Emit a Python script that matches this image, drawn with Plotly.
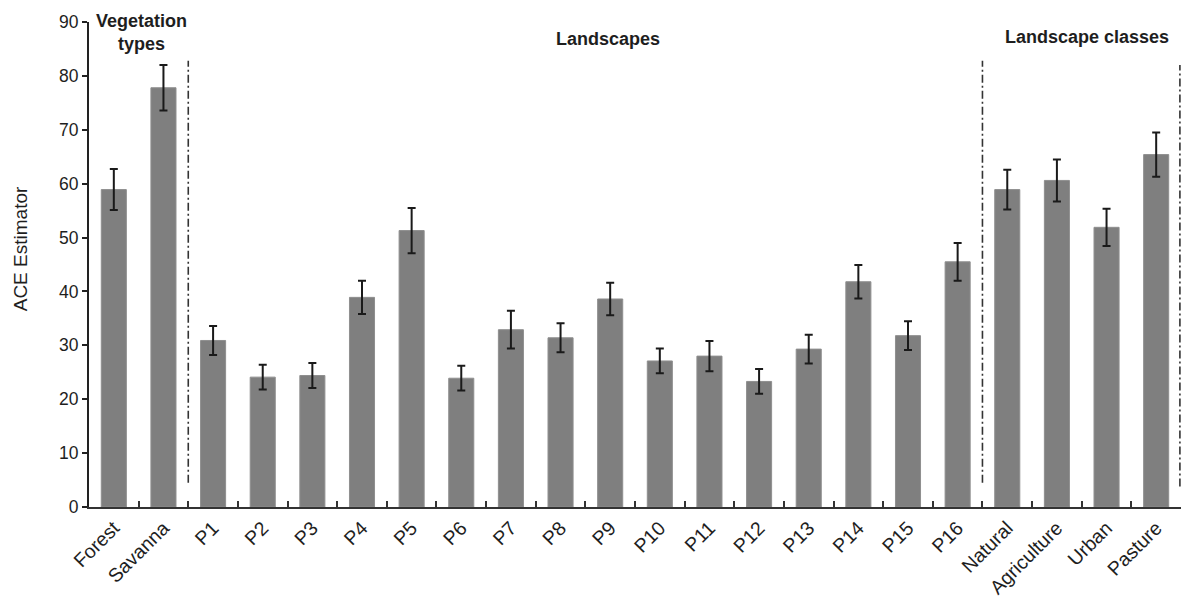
import plotly.graph_objects as go

# ACE richness estimates (mean and error) per vegetation type, landscape and landscape class
categories = ["Forest", "Savanna",
              "P1", "P2", "P3", "P4", "P5", "P6", "P7", "P8",
              "P9", "P10", "P11", "P12", "P13", "P14", "P15", "P16",
              "Natural", "Agriculture", "Urban", "Pasture"]
ace_values = [58.9, 77.8,
              30.9, 24.1, 24.4, 38.9, 51.3, 23.9, 32.9, 31.4,
              38.6, 27.1, 28.0, 23.3, 29.3, 41.8, 31.8, 45.5,
              58.9, 60.6, 51.9, 65.4]
ace_errors = [3.8, 4.2,
              2.7, 2.3, 2.3, 3.1, 4.2, 2.3, 3.5, 2.7,
              3.0, 2.3, 2.8, 2.3, 2.65, 3.1, 2.65, 3.5,
              3.7, 3.9, 3.45, 4.1]

# group headings and how many categories each group spans
group_labels = ["Vegetation<br>types", "Landscapes", "Landscape classes"]
group_sizes = [2, 16, 4]

y_ticks = [0, 10, 20, 30, 40, 50, 60, 70, 80, 90]

FONT = "Liberation Sans, Arial, sans-serif"
TEXT = "#1e1e1e"
SEP_LINE = dict(color="#333333", width=1.6, dash="8px,3px,2px,3px")

fig = go.Figure()
fig.add_trace(go.Bar(
    x=categories,
    y=ace_values,
    marker=dict(color="#7f7f7f", line=dict(color="#8f8f8f", width=1)),
    error_y=dict(type="data", array=ace_errors, visible=True,
                 color="#1a1a1a", thickness=2, width=4),
    showlegend=False,
))

# dash-dot separators after each group
shapes = []
bounds = []
pos = -0.5
for n in group_sizes:
    pos += n
    bounds.append(pos)
sep_spans = [(4.5, 82.8), (4.5, 82.8), (3.8, 82.0)]
for b, (lo, hi) in zip(bounds, sep_spans):
    if b > len(categories) - 1:
        shapes.append(dict(type="line", xref="paper", yref="y", x0=0.999, x1=0.999,
                           y0=lo, y1=hi, line=SEP_LINE))
    else:
        shapes.append(dict(type="line", xref="x", yref="y", x0=b, x1=b, y0=lo, y1=hi,
                           line=SEP_LINE))

annotations = [
    dict(text=group_labels[0], x=0.55, y=88.0, xref="x", yref="y",
         showarrow=False, font=dict(family=FONT, size=18, color=TEXT, weight="bold"),
         xanchor="center", yanchor="middle"),
    dict(text=group_labels[1], x=9.95, y=86.8, xref="x", yref="y",
         showarrow=False, font=dict(family=FONT, size=18, color=TEXT, weight="bold"),
         xanchor="center", yanchor="middle"),
    dict(text=group_labels[2], x=19.6, y=87.3, xref="x", yref="y",
         showarrow=False, font=dict(family=FONT, size=18, color=TEXT, weight="bold"),
         xanchor="center", yanchor="middle"),
    dict(text="ACE Estimator", textangle=-90, x=-0.062, y=0.532,
         xref="paper", yref="paper", showarrow=False,
         font=dict(family=FONT, size=19, color=TEXT),
         xanchor="center", yanchor="middle"),
]

fig.update_layout(
    width=1186, height=597,
    margin=dict(l=89, r=5, t=22, b=90),
    plot_bgcolor="white", paper_bgcolor="white",
    bargap=0.495,
    shapes=shapes,
    annotations=annotations,
    font=dict(family=FONT, color=TEXT),
    xaxis=dict(
        type="category",
        range=[-0.5, len(categories) - 0.5],
        automargin=False,
        showline=True, linecolor="#333333", linewidth=2,
        ticks="inside", tickson="boundaries", ticklen=6, tickwidth=2, tickcolor="#333333",
        tickangle=-45, tickfont=dict(family=FONT, size=19.5, color=TEXT),
        showgrid=False, zeroline=False,
    ),
    yaxis=dict(
        range=[0, 90], tickvals=y_ticks,
        automargin=False,
        showline=True, linecolor="#222222", linewidth=2,
        ticks="outside", ticklen=5, tickwidth=2, tickcolor="#222222",
        tickfont=dict(family=FONT, size=17.5, color=TEXT),
        showgrid=False, zeroline=False,
    ),
)

fig.write_html("out.html")
